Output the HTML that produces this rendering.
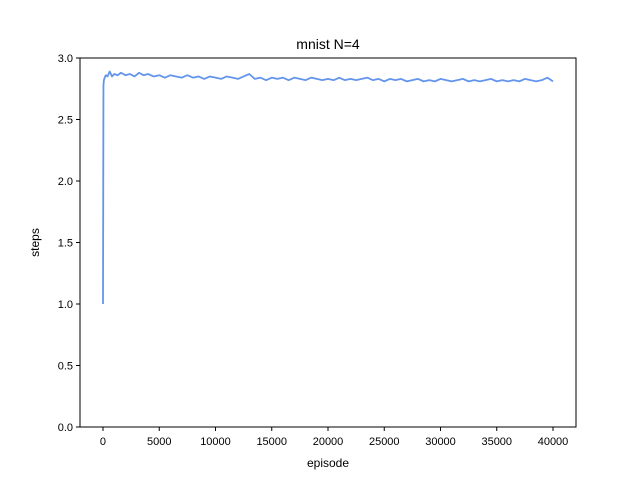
<!DOCTYPE html>
<html><head><meta charset="utf-8"><style>
body{margin:0;background:#fff;font-family:"Liberation Sans","DejaVu Sans",sans-serif;}
</style></head><body>
<svg width="640" height="480" xmlns="http://www.w3.org/2000/svg">
<rect width="640" height="480" fill="#fff"/>
<g id="plot"></g>
</svg>
<script>
const episodes=[0,40,80,150,250,400,600,800,1000,1300,1600,2000,2400,2800,3200,3600,4000,4500,5000,5500,6000,6500,7000,7500,8000,8500,9000,9500,10000,10500,11000,11500,12000,12500,13000,13500,14000,14500,15000,15500,16000,16500,17000,17500,18000,18500,19000,19500,20000,20500,21000,21500,22000,22500,23000,23500,24000,24500,25000,25500,26000,26500,27000,27500,28000,28500,29000,29500,30000,30500,31000,31500,32000,32500,33000,33500,34000,34500,35000,35500,36000,36500,37000,37500,38000,38500,39000,39500,40000];
const steps=[1.0,2.78,2.82,2.84,2.86,2.85,2.89,2.85,2.87,2.86,2.88,2.86,2.87,2.85,2.88,2.86,2.87,2.85,2.86,2.84,2.86,2.85,2.84,2.86,2.84,2.85,2.83,2.85,2.84,2.83,2.85,2.84,2.83,2.85,2.87,2.83,2.84,2.82,2.84,2.83,2.84,2.82,2.84,2.83,2.82,2.84,2.83,2.82,2.83,2.82,2.84,2.82,2.83,2.82,2.83,2.84,2.82,2.83,2.81,2.83,2.82,2.83,2.81,2.82,2.83,2.81,2.82,2.81,2.83,2.82,2.81,2.82,2.83,2.81,2.82,2.81,2.82,2.83,2.81,2.82,2.81,2.82,2.81,2.83,2.82,2.81,2.82,2.84,2.81];
const xTicks=[0,5000,10000,15000,20000,25000,30000,35000,40000];
const yTicks=[0.0,0.5,1.0,1.5,2.0,2.5,3.0];
const L=80,R=576,T=58,B=427,xmin=-2044,xmax=42044,ymin=0,ymax=3;
const sx=v=>L+(v-xmin)/(xmax-xmin)*(R-L);
const sy=v=>B-(v-ymin)/(ymax-ymin)*(B-T);
const NS="http://www.w3.org/2000/svg";
const g=document.getElementById('plot');
function mk(t,a,txt){const e=document.createElementNS(NS,t);for(const k in a)e.setAttribute(k,a[k]);if(txt!==undefined)e.textContent=txt;g.appendChild(e);return e;}
let d=episodes.map((e,i)=>(i?'L':'M')+sx(e).toFixed(2)+','+sy(steps[i]).toFixed(2)).join('');
const line=mk('path',{d:d,fill:'none',stroke:'#6495ed','stroke-width':1.8,'stroke-linejoin':'round'});


const frame=mk('rect',{x:L,y:T,width:R-L,height:B-T,fill:'none',stroke:'#000','stroke-width':1});


xTicks.forEach(v=>{const x=sx(v);mk('line',{x1:x,x2:x,y1:B,y2:B+4,stroke:'#000'});
const t=mk('text',{x:x,y:B+18,'text-anchor':'middle','font-size':11},String(v));

});
yTicks.forEach(v=>{const y=sy(v);mk('line',{x1:L-4,x2:L,y1:y,y2:y,stroke:'#000'});
const t=mk('text',{x:L-7,y:y+4,'text-anchor':'end','font-size':11},v.toFixed(1));

});
const tt=mk('text',{x:(L+R)/2,y:49,'text-anchor':'middle','font-size':14},'mnist N=4');


const xl=mk('text',{x:(L+R)/2,y:467,'text-anchor':'middle','font-size':12},'episode');


const yl=mk('text',{x:39,y:(T+B)/2,'text-anchor':'middle','font-size':12,transform:'rotate(-90 39 '+((T+B)/2)+')'},'steps');


</script>
</body></html>
